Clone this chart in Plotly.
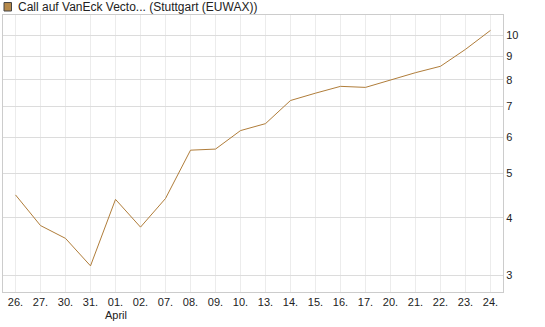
import plotly.graph_objects as go

dates = ["26.", "27.", "30.", "31.", "01.", "02.", "07.", "08.", "09.", "10.",
         "13.", "14.", "15.", "16.", "17.", "20.", "21.", "22.", "23.", "24."]
month_label = "April"
month_index = 4
values = [4.49, 3.85, 3.61, 3.145, 4.39, 3.82, 4.41, 5.62, 5.65, 6.20,
          6.42, 7.21, 7.48, 7.74, 7.70, 7.99, 8.29, 8.56, 9.32, 10.25]
y_ticks = [3, 4, 5, 6, 7, 8, 9, 10]
legend_label = "Call auf VanEck Vecto... (Stuttgart (EUWAX))"

line_color = "#b07d3a"
x_idx = list(range(len(dates)))

fig = go.Figure()
fig.add_trace(go.Scatter(x=x_idx, y=values, mode="lines",
                         line=dict(color=line_color, width=1), showlegend=False,
                         hoverinfo="y"))

fig.update_layout(
    width=545, height=327,
    margin=dict(l=3, r=42, t=15, b=35),
    paper_bgcolor="white", plot_bgcolor="white",
    font=dict(family="Liberation Sans, Arial, sans-serif", size=11, color="#222"),
    xaxis=dict(
        tickmode="array", tickvals=x_idx, ticktext=dates,
        range=[-0.5, len(dates) - 0.5],
        showgrid=True, gridcolor="#ececec", gridwidth=1,
        showline=True, linecolor="#cccccc", mirror=True,
        ticks="", zeroline=False, fixedrange=True,
        tickfont=dict(size=11, color="#222"),
    ),
    yaxis=dict(
        type="log", side="right",
        tickmode="array", tickvals=y_ticks, ticktext=[str(v) for v in y_ticks],
        range=[0.4407, 1.0442],
        showgrid=True, gridcolor="#dcdcdc", gridwidth=1,
        showline=True, linecolor="#cccccc", mirror=True,
        ticks="", zeroline=False, fixedrange=True,
        tickfont=dict(size=11, color="#222"),
    ),
    shapes=[dict(type="rect", xref="paper", yref="paper",
                 x0=0.002, x1=0.017, y0=1.0144, y1=1.045,
                 fillcolor="#b5894a", line=dict(color="#444", width=1))],
    annotations=[
        dict(text=legend_label, xref="paper", yref="paper",
             x=0.026, y=1.029, xanchor="left", yanchor="middle",
             showarrow=False, font=dict(size=12, color="#222")),
        dict(text=month_label, xref="x", yref="paper",
             x=month_index, y=-0.083, xanchor="center", yanchor="middle",
             showarrow=False, font=dict(size=11, color="#222")),
    ],
)

fig.write_html("out.html")
